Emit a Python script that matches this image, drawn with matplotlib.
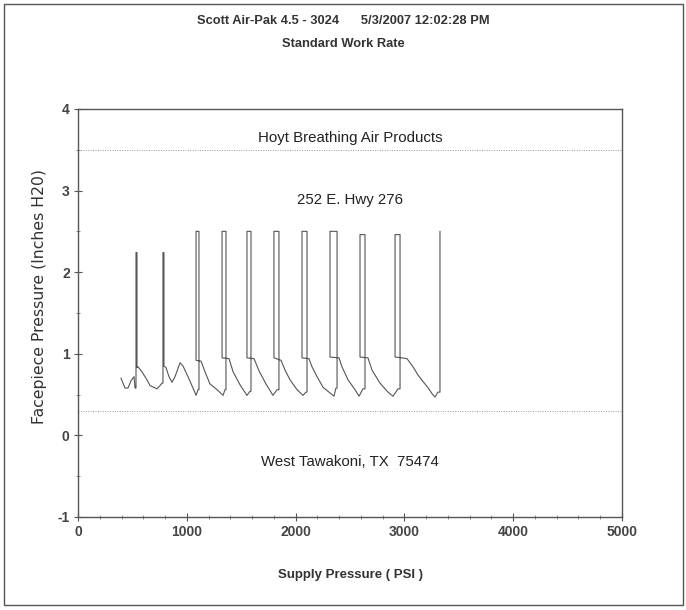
import matplotlib
matplotlib.use("Agg")
import matplotlib.pyplot as plt
from matplotlib.patches import Rectangle
from matplotlib.ticker import MultipleLocator

plt.rcParams["axes.unicode_minus"] = False

title_line1 = "Scott Air-Pak 4.5 - 3024      5/3/2007 12:02:28 PM"
title_line2 = "Standard Work Rate"
x_label = "Supply Pressure ( PSI )"
y_label = "Facepiece Pressure (Inches H20)"
note_top = "Hoyt Breathing Air Products"
note_mid = "252 E. Hwy 276"
note_bottom = "West Tawakoni, TX  75474"

x_ticks = [0, 1000, 2000, 3000, 4000, 5000]
y_ticks = [-1, 0, 1, 2, 3, 4]
limit_lines = [3.5, 0.3]

# supply pressure (PSI) and facepiece pressure (in H2O)
supply_psi = [395, 432, 460, 487, 515, 524, 533, 533, 542, 542, 551, 588, 634, 662, 726, 754, 772,
              781, 781, 790, 790, 809, 836, 864, 892, 938, 965, 1011, 1057, 1085, 1103,
              1112, 1112, 1085, 1085, 1131, 1167, 1213, 1278, 1333, 1351,
              1360, 1360, 1324, 1324, 1388, 1425, 1489, 1553, 1581,
              1590, 1590, 1553, 1553, 1618, 1664, 1728, 1792, 1829,
              1847, 1847, 1801, 1801, 1866, 1903, 1949, 2013, 2068, 2096,
              2105, 2105, 2059, 2059, 2123, 2151, 2197, 2252, 2316, 2353, 2371,
              2381, 2381, 2316, 2316, 2399, 2426, 2482, 2546, 2583, 2619,
              2638, 2638, 2592, 2592, 2665, 2702, 2776, 2849, 2895, 2941,
              2960, 2960, 2914, 2914, 2978, 3024, 3079, 3125, 3171, 3220, 3254, 3281, 3309,
              3327, 3327]
facepiece_h2o = [0.70, 0.58, 0.58, 0.67, 0.72, 0.58, 0.58, 2.24, 2.24, 0.83, 0.84, 0.78, 0.68, 0.61, 0.57, 0.61, 0.64,
                 0.64, 2.24, 2.24, 0.85, 0.83, 0.72, 0.65, 0.72, 0.89, 0.85, 0.72, 0.58, 0.49, 0.56,
                 0.56, 2.50, 2.50, 0.92, 0.91, 0.78, 0.63, 0.56, 0.49, 0.56,
                 0.56, 2.50, 2.50, 0.95, 0.94, 0.78, 0.62, 0.49, 0.54,
                 0.54, 2.50, 2.50, 0.95, 0.94, 0.79, 0.63, 0.49, 0.56,
                 0.56, 2.50, 2.50, 0.95, 0.92, 0.80, 0.68, 0.56, 0.49, 0.53,
                 0.53, 2.50, 2.50, 0.95, 0.94, 0.84, 0.72, 0.59, 0.52, 0.48, 0.58,
                 0.58, 2.50, 2.50, 0.96, 0.95, 0.84, 0.68, 0.56, 0.48, 0.57,
                 0.57, 2.46, 2.46, 0.96, 0.95, 0.80, 0.64, 0.53, 0.48, 0.57,
                 0.57, 2.46, 2.46, 0.96, 0.95, 0.94, 0.84, 0.74, 0.66, 0.58, 0.51, 0.47, 0.53,
                 0.53, 2.50]

sans = ["Liberation Sans", "DejaVu Sans"]

fig = plt.figure(figsize=(6.86, 6.10), dpi=100)
fig.patch.set_facecolor("white")
fig.patches.append(Rectangle((0.006, 0.008), 0.99, 0.986, transform=fig.transFigure,
                             fill=False, edgecolor="#555555", linewidth=1.0))

ax = fig.add_axes([0.1137, 0.1525, 0.793, 0.6689])
ax.plot(supply_psi, facepiece_h2o, color="#555555", linewidth=0.8)
for yv in limit_lines:
    ax.axhline(yv, color="#999999", linewidth=0.7, linestyle=(0, (1, 1.5)))

ax.set_xlim(0, 5000)
ax.set_ylim(-1, 4)
ax.set_xticks(x_ticks)
ax.set_yticks(y_ticks)
ax.xaxis.set_minor_locator(MultipleLocator(200))
ax.yaxis.set_minor_locator(MultipleLocator(0.5))
ax.tick_params(axis="both", which="major", direction="inout", length=6, width=0.8, color="#555555")
ax.tick_params(axis="both", which="minor", direction="inout", length=3, width=0.6, color="#777777")
for lab in ax.get_xticklabels() + ax.get_yticklabels():
    lab.set_family(sans)
    lab.set_fontweight("bold")
    lab.set_fontsize(10)
    lab.set_color("#444444")
ax.tick_params(axis="x", pad=3)
ax.tick_params(axis="y", pad=3)
for s in ax.spines.values():
    s.set_color("#555555")
    s.set_linewidth(1.0)

ax.text(2500, 3.64, note_top, ha="center", va="center", family=sans, fontsize=10.8, color="#222222")
ax.text(2500, 2.88, note_mid, ha="center", va="center", family=sans, fontsize=10.8, color="#222222")
ax.text(2500, -0.33, note_bottom, ha="center", va="center", family=sans, fontsize=10.8, color="#222222")

fig.text(0.5, 1 - 21 / 610, title_line1, ha="center", va="center", family=sans,
         fontweight="bold", fontsize=9.3, color="#333333")
fig.text(0.5, 1 - 44 / 610, title_line2, ha="center", va="center", family=sans,
         fontweight="bold", fontsize=9.3, color="#333333")
fig.text(350 / 686, 1 - 575 / 610, x_label, ha="center", va="center", family=sans,
         fontweight="bold", fontsize=9.5, color="#333333")
fig.text(40 / 686, 1 - 297 / 610, y_label, ha="center", va="center", rotation=90,
         family=["DejaVu Sans"], fontsize=11.3, color="#333333")

fig.savefig("out.png", dpi=100)
